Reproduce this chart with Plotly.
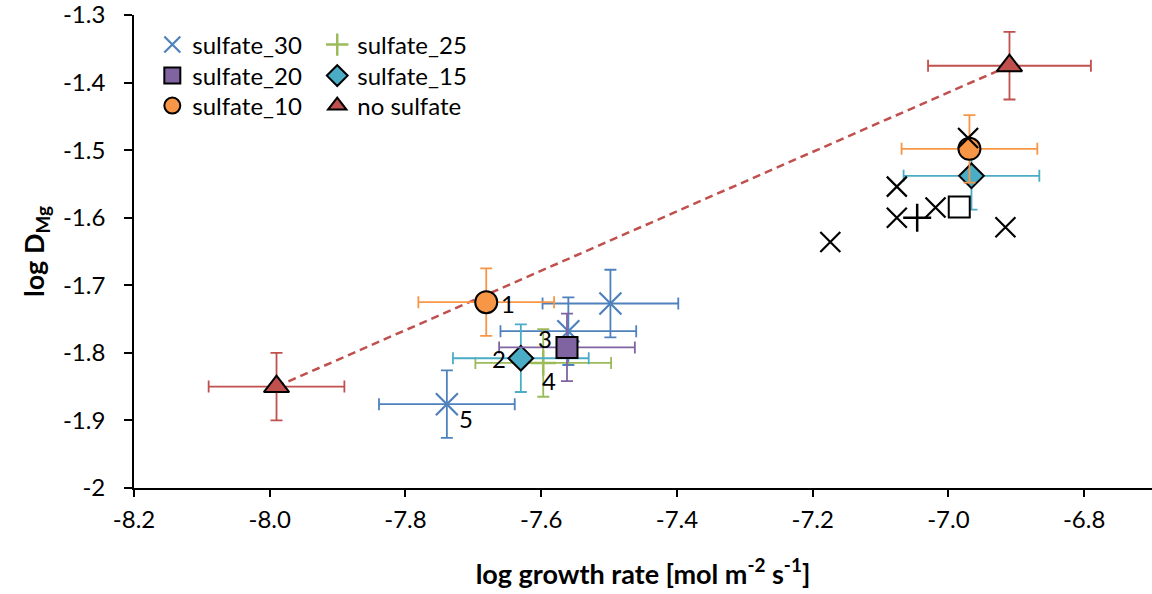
import plotly.graph_objects as go

# ---------------- data ----------------
ns_x = [-7.99, -6.91]
ns_y = [-1.85, -1.375]
ns_xerr = [0.10, 0.12]
ns_yerr = [0.05, 0.05]

s10_x = [-7.681, -6.969]
s10_y = [-1.725, -1.498]
s10_xerr = [0.10, 0.10]
s10_yerr = [0.05, 0.05]

s15_x = [-7.630, -6.966]
s15_y = [-1.808, -1.538]
s15_xerr = [0.10, 0.10]
s15_yerr = [0.05, 0.05]

s20_x = [-7.562]
s20_y = [-1.792]
s20_xerr = [0.10]
s20_yerr = [0.05]

s25_x = [-7.597]
s25_y = [-1.815]
s25_xerr = [0.10]
s25_yerr = [0.05]

s30_x = [-7.498, -7.560, -7.739]
s30_y = [-1.727, -1.768, -1.876]
s30_xerr = [0.10, 0.10, 0.10]
s30_yerr = [0.05, 0.05, 0.05]

oth_x_x = [-6.971, -7.076, -7.076, -7.019, -6.916, -7.174]
oth_x_y = [-1.482, -1.554, -1.600, -1.585, -1.614, -1.636]
oth_p_x = [-7.046]
oth_p_y = [-1.600]
oth_s_x = [-6.984]
oth_s_y = [-1.584]

point_labels = ["1", "2", "3", "4", "5"]

x_ticks = [-8.2, -8.0, -7.8, -7.6, -7.4, -7.2, -7.0, -6.8]
x_ticktext = ["-8.2", "-8.0", "-7.8", "-7.6", "-7.4", "-7.2", "-7.0", "-6.8"]
y_ticks = [-2, -1.9, -1.8, -1.7, -1.6, -1.5, -1.4, -1.3]
y_ticktext = ["-2", "-1.9", "-1.8", "-1.7", "-1.6", "-1.5", "-1.4", "-1.3"]

# ---------------- style ----------------
C_BLUE = "#4F81BD"
C_GREEN = "#9BBB59"
C_PURPLE = "#8064A2"
C_CYAN = "#4BACC6"
C_ORANGE = "#F79646"
C_RED = "#C0504D"
FONT = "Lato"

def ebar(vals, color):
    return dict(type="data", array=vals, visible=True, color=color,
                thickness=1.8, width=6)

fig = go.Figure()

# trendline through no-sulfate points
fig.add_trace(go.Scatter(x=ns_x, y=ns_y, mode="lines",
                         line=dict(color=C_RED, width=2.5, dash="8px,5px"),
                         showlegend=False, hoverinfo="skip"))

fig.add_trace(go.Scatter(
    x=s30_x, y=s30_y, mode="markers", name="sulfate_30", legend="legend",
    marker=dict(symbol="x-thin", size=22, line=dict(color=C_BLUE, width=2.2), color=C_BLUE),
    error_x=ebar(s30_xerr, C_BLUE), error_y=ebar(s30_yerr, C_BLUE)))

fig.add_trace(go.Scatter(
    x=s25_x, y=s25_y, mode="markers", name="sulfate_25", legend="legend4",
    marker=dict(symbol="cross-thin", size=18, line=dict(color=C_GREEN, width=2.5), color=C_GREEN),
    error_x=ebar(s25_xerr, C_GREEN), error_y=ebar(s25_yerr, C_GREEN)))

fig.add_trace(go.Scatter(
    x=s15_x, y=s15_y, mode="markers", name="sulfate_15", legend="legend5",
    marker=dict(symbol="diamond", size=19, color=C_CYAN, line=dict(color="black", width=2)),
    error_x=ebar(s15_xerr, C_CYAN), error_y=ebar(s15_yerr, C_CYAN)))

fig.add_trace(go.Scatter(
    x=s20_x, y=s20_y, mode="markers", name="sulfate_20", legend="legend2",
    marker=dict(symbol="square", size=21, color=C_PURPLE, line=dict(color="black", width=2)),
    error_x=ebar(s20_xerr, C_PURPLE), error_y=ebar(s20_yerr, C_PURPLE)))

fig.add_trace(go.Scatter(
    x=s10_x, y=s10_y, mode="markers", name="sulfate_10", legend="legend3",
    marker=dict(symbol="circle", size=22, color=C_ORANGE, line=dict(color="black", width=2)),
    error_x=ebar(s10_xerr, C_ORANGE), error_y=ebar(s10_yerr, C_ORANGE)))

fig.add_trace(go.Scatter(
    x=ns_x, y=ns_y, mode="markers", name="no sulfate", legend="legend6",
    marker=dict(symbol="triangle-up", size=22, color=C_RED, line=dict(color="black", width=2)),
    error_x=ebar(ns_xerr, C_RED), error_y=ebar(ns_yerr, C_RED)))

# black (unlisted) markers
fig.add_trace(go.Scatter(
    x=oth_x_x, y=oth_x_y, mode="markers", showlegend=False,
    marker=dict(symbol="x-thin", size=20, line=dict(color="black", width=2.2), color="black")))
fig.add_trace(go.Scatter(
    x=oth_p_x, y=oth_p_y, mode="markers", showlegend=False,
    marker=dict(symbol="cross-thin", size=20, line=dict(color="black", width=2.5), color="black")))
fig.add_trace(go.Scatter(
    x=oth_s_x, y=oth_s_y, mode="markers", showlegend=False,
    marker=dict(symbol="square", size=21, color="white", line=dict(color="black", width=2))))

# number labels
anchors = [(s10_x[0], s10_y[0], 22, -1),
           (s15_x[0], s15_y[0], -22, 0),
           (s20_x[0], s20_y[0], -22, 9),
           (s25_x[0], s25_y[0], 6, -18),
           (s30_x[2], s30_y[2], 19, -14)]
for lab, (ax_, ay_, dx, dy) in zip(point_labels, anchors):
    fig.add_annotation(x=ax_, y=ay_, text=lab, showarrow=False, xshift=dx, yshift=dy,
                       font=dict(family=FONT, size=24, color="black"))

axis_common = dict(showgrid=False, zeroline=False, showline=True, linecolor="black",
                   linewidth=1.8, ticks="outside", tickcolor="black",
                   tickwidth=1.5, tickfont=dict(family=FONT, size=24, color="black"),
                   ticklabeloverflow="allow")

# legend layout: two columns, three rows
col_x = [0.018, 0.18]
row_y = [0.9366, 0.8710, 0.8076]

def leg(cx, ry):
    return dict(x=cx, y=ry, xanchor="left", yanchor="middle", bgcolor="rgba(0,0,0,0)",
                font=dict(family=FONT, size=24), tracegroupgap=0, itemsizing="trace")

fig.update_layout(
    width=1152, height=594,
    margin=dict(l=134, r=0, t=15, b=106),
    plot_bgcolor="white", paper_bgcolor="white",
    font=dict(family=FONT, size=24, color="black"),
    xaxis=dict(range=[-8.2, -6.7], tickvals=x_ticks, ticktext=x_ticktext, ticklen=7,
               ticklabelstandoff=2,
               title=dict(text="<b>log growth rate [mol m<sup>-2</sup> s<sup>-1</sup>]</b>",
                          font=dict(family=FONT, size=27), standoff=33),
               **axis_common),
    yaxis=dict(range=[-2.0001, -1.2999], tickvals=y_ticks, ticktext=y_ticktext, ticklen=8,
               ticklabelstandoff=14,
               title=dict(text="<b>log D<sub>Mg</sub></b>", font=dict(family=FONT, size=27),
                          standoff=10),
               **axis_common),
    legend=leg(col_x[0], row_y[0]),
    legend2=leg(col_x[0], row_y[1]),
    legend3=leg(col_x[0], row_y[2]),
    legend4=leg(col_x[1], row_y[0]),
    legend5=leg(col_x[1], row_y[1]),
    legend6=leg(col_x[1], row_y[2]),
)

fig.write_html("out.html")
